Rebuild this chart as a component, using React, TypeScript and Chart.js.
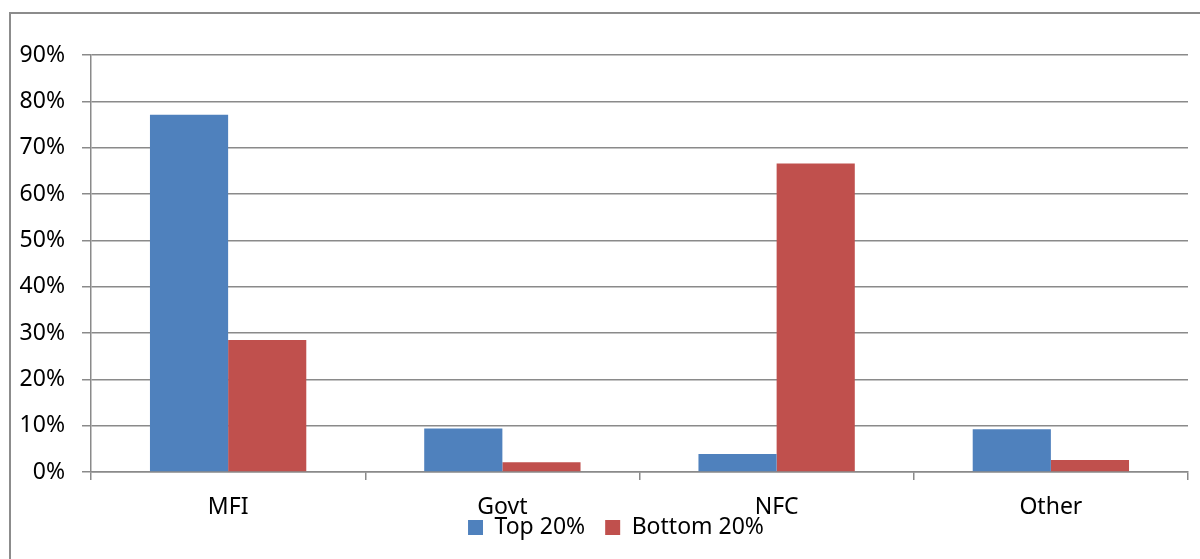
import React, { useEffect, useRef } from "react";
import { Chart, registerables } from "chart.js";

Chart.register(...registerables);

// Sector categories and the share held by each group (%)
const categories = ["MFI", "Govt", "NFC", "Other"];
const top20 = [77.1, 9.4, 3.9, 9.2];
const bottom20 = [28.5, 2.1, 66.6, 2.6];
const seriesNames = ["Top 20%", "Bottom 20%"];
const seriesColors = ["#4F81BD", "#C0504D"];

const FONT = "'Noto Sans', 'Open Sans', sans-serif";
const GRID = "#8a8a8a";

// Thin grey frame around the whole chart
const framePlugin = {
  id: "frame",
  beforeDraw(chart: Chart) {
    const ctx = chart.ctx;
    ctx.save();
    ctx.strokeStyle = "#8c8c8c";
    ctx.lineWidth = 2;
    ctx.strokeRect(10, 13, 1220, 600);
    ctx.restore();
  },
};

// The category axis is kept short so the legend sits close under it;
// widen its box afterwards so its labels are not clipped, and nudge the
// legend a little to the right.
const labelRoomPlugin = {
  id: "labelRoom",
  afterLayout(chart: Chart) {
    const x: any = chart.scales.x;
    if (x) x.bottom = chart.height;
    const lg: any = (chart as any).legend;
    if (lg) {
      lg.left += 22;
      lg.right += 22;
    }
  },
};

export default function App() {
  const ref = useRef<HTMLCanvasElement | null>(null);

  useEffect(() => {
    document.body.style.margin = "0";
    if (!ref.current) return;
    const chart = new Chart(ref.current, {
      type: "bar",
      data: {
        labels: categories,
        datasets: [
          {
            label: seriesNames[0],
            data: top20,
            backgroundColor: seriesColors[0],
            categoryPercentage: 0.57,
            barPercentage: 1.0,
          },
          {
            label: seriesNames[1],
            data: bottom20,
            backgroundColor: seriesColors[1],
            categoryPercentage: 0.57,
            barPercentage: 1.0,
          },
        ],
      },
      options: {
        animation: false,
        responsive: false,
        maintainAspectRatio: false,
        layout: { padding: { top: 55, right: 12, bottom: 10, left: 0 } },
        plugins: {
          tooltip: { enabled: false },
          legend: {
            position: "bottom",
            labels: {
              boxWidth: 15,
              boxHeight: 15,
              padding: 20,
              color: "#000",
              font: { family: FONT, size: 23 },
            },
          },
        },
        scales: {
          x: {
            afterFit: (s: any) => {
              s.height = 24;
            },
            grid: {
              display: true,
              offset: true,
              drawOnChartArea: false,
              drawTicks: true,
              tickLength: 8,
              color: GRID,
              lineWidth: 1.5,
            },
            border: { display: true, color: GRID, width: 1.5 },
            ticks: {
              color: "#000",
              padding: 14,
              font: { family: FONT, size: 23 },
            },
          },
          y: {
            min: 0,
            max: 90,
            afterFit: (s: any) => {
              s.width = 91;
            },
            grid: {
              color: GRID,
              lineWidth: 1.5,
              tickLength: 9,
            },
            border: { display: true, color: GRID, width: 1.5 },
            ticks: {
              stepSize: 10,
              padding: 17,
              color: "#000",
              font: { family: FONT, size: 23 },
              callback: (v: any) => `${v}%`,
            },
          },
        },
      },
      plugins: [framePlugin, labelRoomPlugin],
    });
    return () => chart.destroy();
  }, []);

  return (
    <div style={{ width: 1200, height: 559, background: "#fff" }}>
      <canvas ref={ref} width={1200} height={559} />
    </div>
  );
}
